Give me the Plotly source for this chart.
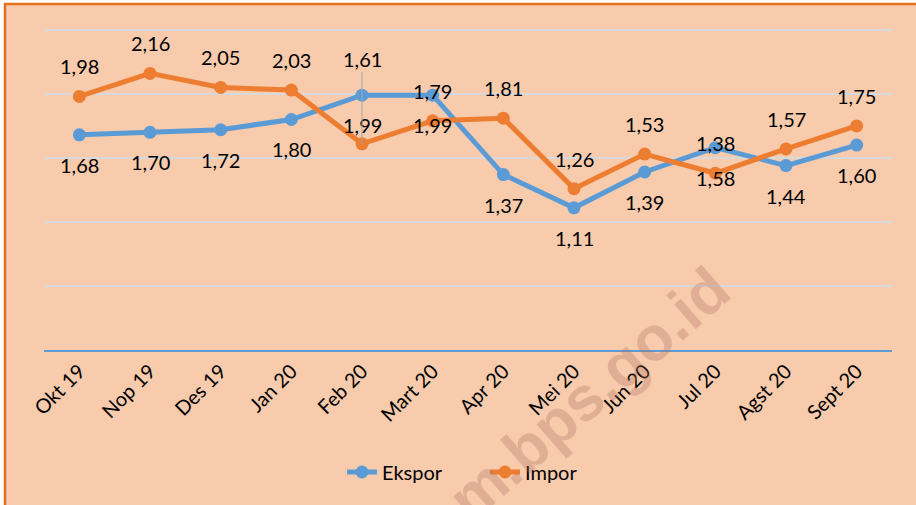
import plotly.graph_objects as go

months = ["Okt 19", "Nop 19", "Des 19", "Jan 20", "Feb 20", "Mart 20",
          "Apr 20", "Mei 20", "Jun 20", "Jul 20", "Agst 20", "Sept 20"]
ekspor = [1.68, 1.70, 1.72, 1.80, 1.99, 1.99, 1.37, 1.11, 1.39, 1.58, 1.44, 1.60]
impor = [1.98, 2.16, 2.05, 2.03, 1.61, 1.79, 1.81, 1.26, 1.53, 1.38, 1.57, 1.75]

BLUE = "#5B9BD5"
ORANGE = "#ED7D31"
PEACH = "#F8CBAD"
BORDER = "#E2701E"
FONT = "Lato"
FS = 20

fig = go.Figure()
fig.add_trace(go.Scatter(x=months, y=ekspor, name="Ekspor", mode="lines+markers",
                         line=dict(color=BLUE, width=5), marker=dict(size=13, color=BLUE),
                         cliponaxis=False))
fig.add_trace(go.Scatter(x=months, y=impor, name="Impor", mode="lines+markers",
                         line=dict(color=ORANGE, width=5), marker=dict(size=13, color=ORANGE),
                         cliponaxis=False))

ann = []
for m, v in zip(months, ekspor):
    ann.append(dict(x=m, y=v, text=f"{v:.2f}".replace(".", ","), showarrow=False,
                    yshift=-30, font=dict(size=FS, color="#000000", family=FONT)))
for m, v in zip(months, impor):
    if m == "Feb 20":
        ann.append(dict(x=m, y=v, text=f"{v:.2f}".replace(".", ","), showarrow=True,
                        arrowhead=0, arrowwidth=1, arrowcolor="#A6A6A6", ax=0, ay=-85,
                        standoff=0, font=dict(size=FS, color="#000000", family=FONT)))
    else:
        ann.append(dict(x=m, y=v, text=f"{v:.2f}".replace(".", ","), showarrow=False,
                        yshift=30, font=dict(size=FS, color="#000000", family=FONT)))

# plot area geometry (pixels)
L, T, R, B = 44, 26, 892, 350
PW, PH = R - L, B - T

# watermark
ann.append(dict(xref="paper", yref="paper", x=(560 - L) / PW, y=(B - 418) / PH,
                xanchor="center", yanchor="middle",
                text="<b>ppm.bps.go.id</b>", showarrow=False, textangle=-41,
                font=dict(size=62, color="rgba(175,115,95,0.32)", family="Liberation Sans")))

fig.update_layout(
    width=916, height=505,
    margin=dict(l=L, r=916 - R, t=T, b=505 - B),
    paper_bgcolor="white", plot_bgcolor="rgba(0,0,0,0)",
    font=dict(family=FONT, size=FS, color="#000000"),
    showlegend=True,
    legend=dict(orientation="h", x=(342 - L) / PW, xanchor="left", y=(B - 472) / PH,
                yanchor="middle", font=dict(size=20, family=FONT), bgcolor="rgba(0,0,0,0)",
                entrywidth=98, entrywidthmode="pixels"),
    annotations=ann,
    shapes=[dict(type="rect", xref="paper", yref="paper",
                 x0=(5 - L) / PW, x1=(940 - L) / PW,
                 y0=(B - 530) / PH, y1=(B - 4) / PH,
                 fillcolor=PEACH, line=dict(color=BORDER, width=2.5), layer="below")],
)
fig.update_xaxes(type="category", range=[-0.5, len(months) - 0.5], showgrid=False,
                 tickangle=-45, ticks="",
                 showline=True, linecolor=BLUE, linewidth=1.5, automargin=False,
                 tickfont=dict(size=FS, family=FONT, color="#000000"))
fig.update_yaxes(range=[0, 2.53], tickvals=[0.5, 1.0, 1.5, 2.0, 2.5], showticklabels=False,
                 showgrid=True, gridcolor="#D9D9D9", gridwidth=1.5, zeroline=False,
                 showline=False, automargin=False)

fig.write_html("out.html", config={"displayModeBar": False},
               post_script="document.body.style.margin='0px';")
